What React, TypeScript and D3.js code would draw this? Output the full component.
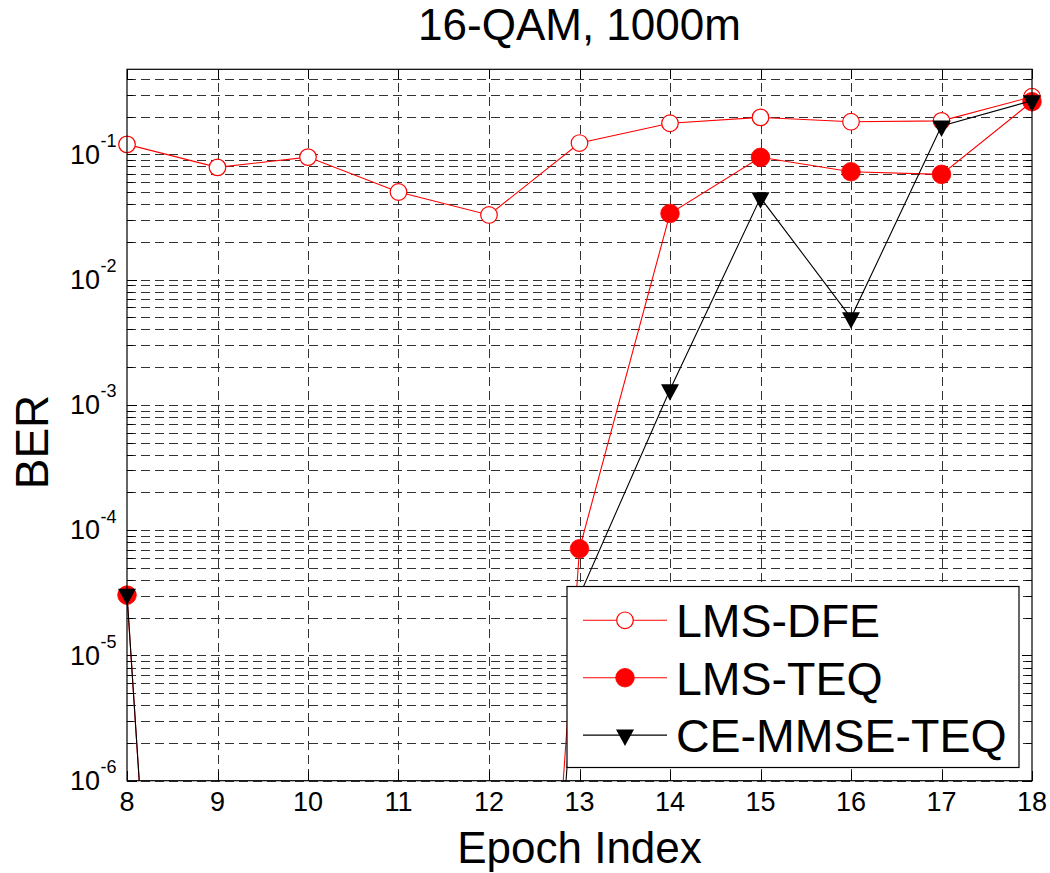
import React from "react";
import * as d3 from "d3";

// epoch index on x, BER (log) on y
const epochs = [8, 9, 10, 11, 12, 13, 14, 15, 16, 17, 18];
const lmsDfe = [0.12, 0.0787, 0.095, 0.05, 0.0328, 0.123, 0.177, 0.197, 0.182, 0.185, 0.288];
const lmsTeq = [3.03e-5, 3e-16, 1e-15, 1e-15, 3.5e-15, 7.1e-5, 0.0337, 0.0946, 0.0726, 0.0692, 0.263];
const ceMmseTeq = [3.08e-5, 3e-16, 1e-15, 1e-15, 3.5e-15, 3.0e-5, 1.32e-3, 0.045, 4.95e-3, 0.168, 0.268];
const seriesNames = ["LMS-DFE", "LMS-TEQ", "CE-MMSE-TEQ"];
const xTicks = [8, 9, 10, 11, 12, 13, 14, 15, 16, 17, 18];
const yDomain: [number, number] = [1e-6, 0.477];

const FONT = "'Liberation Sans', Arial, Helvetica, sans-serif";
const W = 1050;
const H = 873;
const L = 127, R = 1032, T = 69.3, B = 780.7;

const x = d3.scaleLinear().domain([8, 18]).range([L, R]);
const y = d3.scaleLog().domain(yDomain).range([B, T]);

const line = d3
    .line<number>()
    .x((_, i) => x(epochs[i]))
    .y((d) => y(d));

type MarkerKind = "open" | "filled" | "tri";

function Marker({ kind, cx, cy }: { kind: MarkerKind; cx: number; cy: number }) {
    if (kind === "open") {
        return <circle cx={cx} cy={cy} r={8.3} fill="#fff" stroke="#ff0000" strokeWidth={1.2} />;
    }
    if (kind === "filled") {
        return <circle cx={cx} cy={cy} r={9.3} fill="#ff0000" stroke="#ff0000" strokeWidth={0.8} />;
    }
    const h = 16.5, hw = 9;
    // triangle centred on its centroid
    const pts = [
        [cx - hw, cy - h / 3],
        [cx + hw, cy - h / 3],
        [cx, cy + (2 * h) / 3],
    ];
    return <polygon points={pts.map((p) => p.join(",")).join(" ")} fill="#000" />;
}

const series = [
    { name: seriesNames[0], values: lmsDfe, color: "#ff0000", kind: "open" as MarkerKind, w: 1.1 },
    { name: seriesNames[1], values: lmsTeq, color: "#ff0000", kind: "filled" as MarkerKind, w: 1.1 },
    { name: seriesNames[2], values: ceMmseTeq, color: "#000000", kind: "tri" as MarkerKind, w: 1.1 },
];

function App() {
    const yAll = y.ticks();
    const isMajor = (v: number) => Math.abs(Math.log10(v) - Math.round(Math.log10(v))) < 1e-9;
    const yMajor = yAll.filter(isMajor);
    const crisp = (v: number) => Math.round(v) + 0.5;

    return (
        <svg
            width={W}
            height={H}
            style={{ position: "absolute", left: 0, top: 0, background: "#fff" }}
            fontFamily={FONT}
        >
            <defs>
                <clipPath id="plotClip">
                    <rect x={L} y={T} width={R - L} height={B - T} />
                </clipPath>
            </defs>
            <rect x={0} y={0} width={W} height={H} fill="#fff" />

            {/* grid */}
            <g stroke="#333" strokeWidth={1} strokeDasharray="9,5" shapeRendering="crispEdges">
                {yAll.map((v, i) => (
                    <line key={"gy" + i} x1={L} x2={R} y1={crisp(y(v))} y2={crisp(y(v))} />
                ))}
                {xTicks.slice(1, -1).map((v) => (
                    <line key={"gx" + v} x1={crisp(x(v))} x2={crisp(x(v))} y1={T} y2={B} />
                ))}
            </g>

            {/* ticks, inward on all four sides */}
            <g stroke="#000" strokeWidth={1} shapeRendering="crispEdges">
                {yAll.map((v, i) => {
                    const len = isMajor(v) ? 10 : 6;
                    const yy = crisp(y(v));
                    return (
                        <g key={"ty" + i}>
                            <line x1={L} x2={L + len} y1={yy} y2={yy} />
                            <line x1={R - len} x2={R} y1={yy} y2={yy} />
                        </g>
                    );
                })}
                {xTicks.map((v) => (
                    <g key={"tx" + v}>
                        <line x1={crisp(x(v))} x2={crisp(x(v))} y1={B} y2={B - 10} />
                        <line x1={crisp(x(v))} x2={crisp(x(v))} y1={T} y2={T + 10} />
                    </g>
                ))}
            </g>

            {/* series */}
            {series.map((s) => (
                <g key={s.name}>
                    <path
                        d={line(s.values) || ""}
                        fill="none"
                        stroke={s.color}
                        strokeWidth={s.w}
                        clipPath="url(#plotClip)"
                    />
                    {s.values.map((v, i) =>
                        v >= yDomain[0] && v <= yDomain[1] ? (
                            <Marker key={i} kind={s.kind} cx={x(epochs[i])} cy={y(v)} />
                        ) : null
                    )}
                </g>
            ))}

            {/* axes box */}
            <rect x={L} y={T} width={R - L} height={B - T} fill="none" stroke="#000" strokeWidth={1.2} />

            {/* x tick labels */}
            {xTicks.map((v) => (
                <text key={"lx" + v} x={x(v)} y={811} fontSize={27} textAnchor="middle" fill="#000">
                    {v}
                </text>
            ))}

            {/* y tick labels 10^k */}
            {yMajor.map((v) => {
                const k = Math.round(Math.log10(v));
                const yy = y(v);
                return (
                    <g key={"ly" + k}>
                        <text x={100} y={yy + 9.2} fontSize={27} textAnchor="end" fill="#000">
                            10
                        </text>
                        <text x={100.5} y={yy - 7.5} fontSize={18} textAnchor="start" fill="#000">
                            {k}
                        </text>
                    </g>
                );
            })}

            {/* titles */}
            <text x={(L + R) / 2} y={40} fontSize={44} textAnchor="middle" fill="#000">
                16-QAM, 1000m
            </text>
            <text x={(L + R) / 2} y={863} fontSize={44} textAnchor="middle" fill="#000">
                Epoch Index
            </text>
            <text
                transform={`translate(48,442) rotate(-90)`}
                fontSize={46}
                textAnchor="middle"
                fill="#000"
            >
                BER
            </text>

            {/* legend */}
            <g>
                <rect x={567} y={586.5} width={452} height={181} fill="#fff" stroke="#000" strokeWidth={1.2} />
                {series.map((s, i) => {
                    const cy = 620.3 + i * 57.4;
                    return (
                        <g key={"lg" + s.name}>
                            <line x1={583} x2={667} y1={cy} y2={cy} stroke={s.color} strokeWidth={s.w} />
                            <Marker kind={s.kind} cx={625} cy={cy} />
                            <text x={676} y={cy + 17} fontSize={46.5} fill="#000">
                                {s.name}
                            </text>
                        </g>
                    );
                })}
            </g>
        </svg>
    );
}

export default App;
